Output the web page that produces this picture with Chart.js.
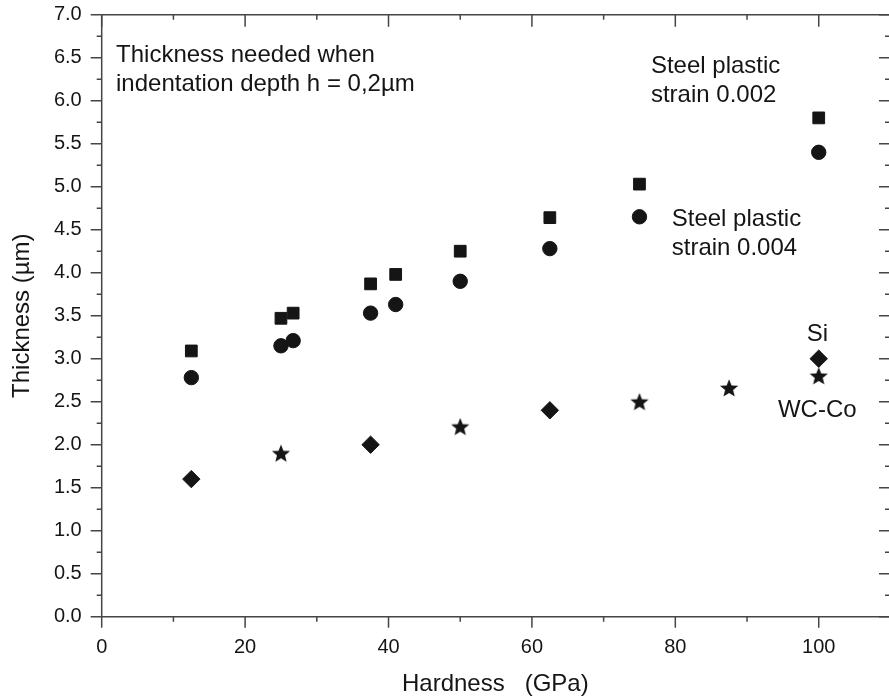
<!DOCTYPE html>
<html>
<head>
<meta charset="utf-8">
<script src="https://cdn.jsdelivr.net/npm/chart.js@4.4.0/dist/chart.umd.min.js"></script>
<style>
  html, body { margin: 0; padding: 0; background: #fff; }
  #wrap { width: 889px; height: 696px; position: relative; }
</style>
</head>
<body>
<div id="wrap"><canvas id="myChart"></canvas></div>
<script>
// hardness (GPa) vs thickness (um)
const steelHardness = [12.5, 25, 26.7, 37.5, 41, 50, 62.5, 75, 100];
const steel002 = [3.09, 3.47, 3.53, 3.87, 3.98, 4.25, 4.64, 5.03, 5.80];
const steel004 = [2.78, 3.15, 3.21, 3.53, 3.63, 3.90, 4.28, 4.65, 5.40];
const siHardness = [12.5, 37.5, 62.5, 100];
const siThickness = [1.60, 2.00, 2.40, 3.00];
const wcHardness = [25, 50, 75, 87.5, 100];
const wcThickness = [1.90, 2.21, 2.50, 2.66, 2.80];

const xTitle = "Hardness   (GPa)";
const yTitle = "Thickness (\u00b5m)";
const notes = [
  { lines: ["Thickness needed when", "indentation depth h = 0,2\u00b5m"], x: 2.0, y: 6.45, align: "left" },
  { lines: ["Steel plastic", "strain 0.002"], x: 76.6, y: 6.32, align: "left" },
  { lines: ["Steel plastic", "strain 0.004"], x: 79.5, y: 4.54, align: "left" },
  { lines: ["Si"], x: 99.8, y: 3.21, align: "center" },
  { lines: ["WC-Co"], x: 99.8, y: 2.32, align: "center" },
];

const ink = "#151515";
const axisColor = "#454545";
const fontFamily = "'Liberation Sans', Arial, Helvetica, sans-serif";

function toPoints(xs, ys) {
  return xs.map((x, i) => ({ x: x, y: ys[i] }));
}

function makeStar(R, r, color) {
  const c = document.createElement("canvas");
  const s = Math.ceil(R * 2) + 2;
  c.width = s;
  c.height = s;
  const g = c.getContext("2d");
  g.fillStyle = color;
  g.beginPath();
  for (let i = 0; i < 10; i++) {
    const rad = i % 2 ? r : R;
    const ang = -Math.PI / 2 + (i * Math.PI) / 5;
    g.lineTo(s / 2 + rad * Math.cos(ang), s / 2 + 0.8 + rad * Math.sin(ang));
  }
  g.closePath();
  g.fill();
  return c;
}

const starImg = makeStar(9.6, 4.2, ink);

const framePlugin = {
  id: "frame",
  afterDraw(chart) {
    const { ctx, chartArea: a, scales } = chart;
    const x = scales.x;
    const y = scales.y;
    ctx.save();
    ctx.strokeStyle = axisColor;
    ctx.lineWidth = 1.5;
    ctx.beginPath();
    ctx.moveTo(a.left, a.top);
    ctx.lineTo(a.left, a.bottom);
    ctx.lineTo(a.right, a.bottom);
    ctx.moveTo(a.left, a.top);
    ctx.lineTo(a.right, a.top);
    ctx.stroke();

    ctx.beginPath();
    for (let v = 0; v <= x.max + 1e-6; v += 10) {
      const px = x.getPixelForValue(v);
      const major = v % 20 === 0;
      ctx.moveTo(px, a.bottom);
      ctx.lineTo(px, a.bottom + (major ? 11 : 5));
      ctx.moveTo(px, a.top);
      ctx.lineTo(px, a.top + (major ? 12 : 5));
    }
    for (let k = 0; k <= 28; k++) {
      const v = k * 0.25;
      const py = y.getPixelForValue(v);
      const major = k % 2 === 0;
      ctx.moveTo(a.left - (major ? 11 : 5), py);
      ctx.lineTo(a.left, py);
      ctx.moveTo(a.right - (major ? 10 : 4), py);
      ctx.lineTo(a.right, py);
    }
    ctx.stroke();

    ctx.fillStyle = ink;
    ctx.font = "24px " + fontFamily;
    ctx.textBaseline = "alphabetic";
    notes.forEach((n) => {
      ctx.textAlign = n.align;
      const px = x.getPixelForValue(n.x);
      const py = y.getPixelForValue(n.y);
      n.lines.forEach((line, i) => ctx.fillText(line, px, py + i * 28.5));
    });
    ctx.restore();
  },
};

const ctx = document.getElementById("myChart");

new Chart(ctx, {
  type: "scatter",
  data: {
    datasets: [
      {
        label: "Steel plastic strain 0.002",
        data: toPoints(steelHardness, steel002),
        pointStyle: "rect",
        pointRadius: 8.3,
        backgroundColor: ink,
        borderColor: ink,
        borderWidth: 1,
        order: 3,
      },
      {
        label: "Steel plastic strain 0.004",
        data: toPoints(steelHardness, steel004),
        pointStyle: "circle",
        pointRadius: 7.2,
        backgroundColor: ink,
        borderColor: ink,
        borderWidth: 1,
        order: 2,
      },
      {
        label: "Si",
        data: toPoints(siHardness, siThickness),
        pointStyle: "rectRot",
        pointRadius: 8.7,
        backgroundColor: ink,
        borderColor: ink,
        borderWidth: 1,
        order: 1,
      },
      {
        label: "WC-Co",
        data: toPoints(wcHardness, wcThickness),
        pointStyle: starImg,
        pointRadius: 9,
        order: 0,
      },
    ],
  },
  options: {
    responsive: true,
    maintainAspectRatio: false,
    animation: false,
    events: [],
    layout: { padding: { top: 14.7, right: 0, left: 0, bottom: 0 }, autoPadding: false },
    plugins: { legend: { display: false }, tooltip: { enabled: false } },
    scales: {
      x: {
        type: "linear",
        min: 0,
        max: 109.8,
        grid: { display: false, drawTicks: false },
        border: { display: false },
        ticks: {
          stepSize: 20,
          includeBounds: false,
          padding: 19,
          color: ink,
          font: { family: fontFamily, size: 20 },
          maxRotation: 0,
        },
        title: {
          display: true,
          text: xTitle,
          color: ink,
          font: { family: fontFamily, size: 24, lineHeight: 1.0 },
          padding: { top: 0, bottom: 0 },
        },
        afterFit: (s) => {
          s.height = 79.3;
          s.paddingLeft = 0;
          s.paddingRight = 0;
        },
      },
      y: {
        type: "linear",
        min: 0,
        max: 7,
        grid: { display: false, drawTicks: false },
        border: { display: false },
        ticks: {
          stepSize: 0.5,
          padding: 20,
          color: ink,
          font: { family: fontFamily, size: 20 },
          callback: (v) => v.toFixed(1),
        },
        title: {
          display: true,
          text: yTitle,
          color: ink,
          font: { family: fontFamily, size: 24, lineHeight: 1.1 },
          padding: { top: 9, bottom: 0 },
        },
        afterFit: (s) => {
          s.width = 101.7;
          s.paddingTop = 0;
          s.paddingBottom = 0;
        },
      },
    },
  },
  plugins: [framePlugin],
});
</script>
</body>
</html>
